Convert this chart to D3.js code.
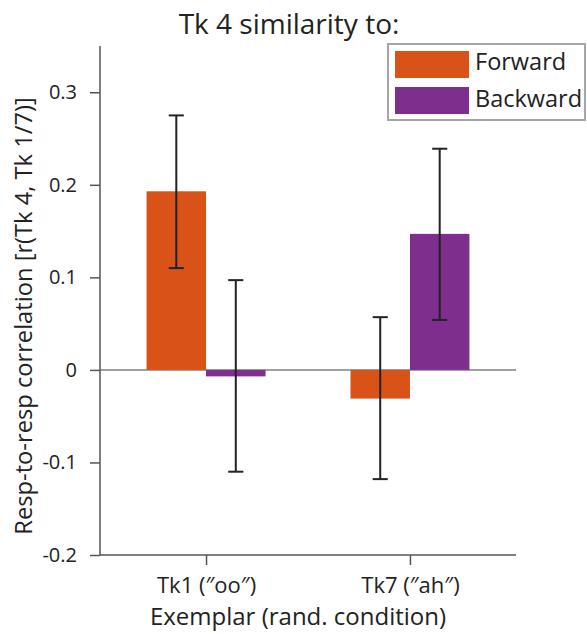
<!DOCTYPE html>
<html><head><meta charset="utf-8">
<script src="https://cdn.jsdelivr.net/npm/d3@7"></script>
<style>body{margin:0;background:#fff}svg{display:block;font-family:"Open Sans",sans-serif}</style>
</head><body><div id="c"></div>
<script>
const categories = ["Tk1 (\u2033oo\u2033)", "Tk7 (\u2033ah\u2033)"];
const seriesNames = ["Forward", "Backward"];
const forwardValues = [0.193, -0.031];
const backwardValues = [-0.007, 0.147];
const forwardLow = [0.110, -0.118];
const forwardHigh = [0.275, 0.057];
const backwardLow = [-0.110, 0.054];
const backwardHigh = [0.097, 0.239];
const yTicks = [-0.2, -0.1, 0, 0.1, 0.2, 0.3];
const yTickLabels = ["-0.2", "-0.1", "0", "0.1", "0.2", "0.3"];
const colors = ["#D95319", "#7E2F8E"];

const W = 587, H = 634;
const svg = d3.select("#c").append("svg").attr("width", W).attr("height", H);

const x = d3.scaleLinear().domain([0.48, 2.52]).range([100, 516]);
const y = d3.scaleLinear().domain([-0.2, 0.35]).range([555, 46]);
const barW = 0.2917;
const series = [
  {name: seriesNames[0], vals: forwardValues, lo: forwardLow, hi: forwardHigh, color: colors[0], off: -barW/2},
  {name: seriesNames[1], vals: backwardValues, lo: backwardLow, hi: backwardHigh, color: colors[1], off: barW/2}
];

// zero line
svg.append("line").attr("x1", x(0.48)).attr("x2", x(2.52)).attr("y1", y(0)).attr("y2", y(0))
  .attr("stroke", "#808080").attr("stroke-width", 1.5);

// bars
series.forEach(s => {
  svg.selectAll(null).data(s.vals).enter().append("rect")
    .attr("x", (d, i) => x(i + 1 + s.off - barW/2))
    .attr("width", x(1 + barW) - x(1))
    .attr("y", d => y(Math.max(0, d)))
    .attr("height", d => Math.abs(y(d) - y(0)))
    .attr("fill", s.color);
});

// error bars
const cap = 0.037;
series.forEach(s => {
  s.vals.forEach((d, i) => {
    const cx = x(i + 1 + s.off);
    const g = svg.append("g").attr("stroke", "#222").attr("stroke-width", 2);
    g.append("line").attr("x1", cx).attr("x2", cx).attr("y1", y(s.lo[i])).attr("y2", y(s.hi[i]));
    [s.lo[i], s.hi[i]].forEach(v => {
      g.append("line").attr("x1", cx - (x(1+cap)-x(1))).attr("x2", cx + (x(1+cap)-x(1)))
        .attr("y1", y(v)).attr("y2", y(v));
    });
  });
});

// y axis
const yAxis = d3.axisLeft(y).tickValues(yTicks).tickFormat((d, i) => yTickLabels[i]).tickSize(10).tickPadding(13);
const gy = svg.append("g").attr("transform", `translate(${x(0.48)},0)`).call(yAxis);
gy.select(".domain").attr("stroke", "#555").attr("stroke-width", 1.5).attr("d", `M0,${y(0.35)}V${y(-0.2)}`);
gy.selectAll(".tick line").attr("stroke", "#555").attr("stroke-width", 1.5);
gy.selectAll(".tick text").attr("font-size", 20).attr("fill", "#222").attr("font-family", "Open Sans");

// x axis
const xAxis = d3.axisBottom(x).tickValues([1, 2]).tickFormat((d, i) => categories[i]).tickSize(10).tickPadding(12);
const gx = svg.append("g").attr("transform", `translate(0,${y(-0.2)})`).call(xAxis);
gx.select(".domain").attr("stroke", "#555").attr("stroke-width", 1.5).attr("d", `M${x(0.48)},0H${x(2.52)}`);
gx.selectAll(".tick line").attr("stroke", "#555").attr("stroke-width", 1.5);
gx.selectAll(".tick text").attr("font-size", 22).attr("fill", "#222").attr("font-family", "Open Sans");

// title
svg.append("text").attr("x", 289).attr("y", 34).attr("text-anchor", "middle")
  .attr("font-size", 28).attr("fill", "#222").text("Tk 4 similarity to:");
// x label
svg.append("text").attr("x", 298).attr("y", 625).attr("text-anchor", "middle")
  .attr("font-size", 24).attr("fill", "#222").text("Exemplar (rand. condition)");
// y label
svg.append("text").attr("transform", "translate(32,316) rotate(-90)").attr("text-anchor", "middle")
  .attr("font-size", 23.7).attr("fill", "#222").text("Resp-to-resp correlation [r(Tk 4, Tk 1/7)]");

// legend
const lg = svg.append("g");
lg.append("rect").attr("x", 388).attr("y", 44).attr("width", 197).attr("height", 76)
  .attr("fill", "#fff").attr("stroke", "#a6a6a6").attr("stroke-width", 2);
series.forEach((s, i) => {
  lg.append("rect").attr("x", 395).attr("y", 51 + i * 36).attr("width", 74).attr("height", 27).attr("fill", s.color);
  lg.append("text").attr("x", 475).attr("y", 70 + i * 37).attr("font-size", 23.5).attr("fill", "#222").text(s.name);
});
</script></body></html>
